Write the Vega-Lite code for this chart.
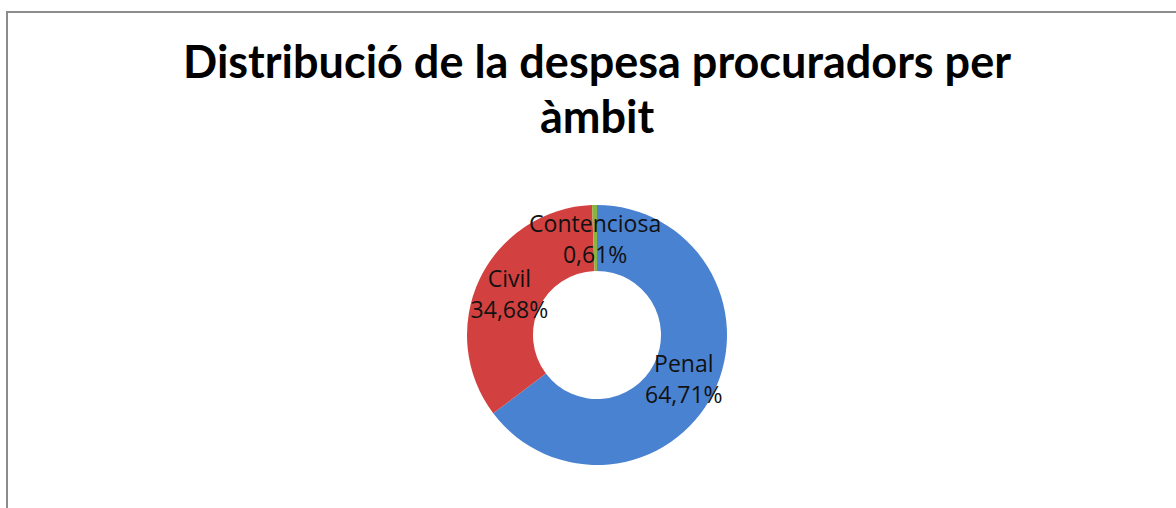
{
  "$schema": "https://vega.github.io/schema/vega-lite/v6.json",
  "width": 1180,
  "height": 646,
  "autosize": "none",
  "padding": {"left": 7, "top": 12, "right": 0, "bottom": 0},
  "background": "white",
  "view": {"stroke": "#8c8c8c", "strokeWidth": 2, "fill": "white"},
  "title": {
    "text": ["Distribució de la despesa procuradors per", "àmbit"],
    "orient": "top",
    "anchor": "middle",
    "frame": "group",
    "baseline": "top",
    "offset": -130,
    "font": "Lato",
    "fontSize": 45,
    "fontWeight": "bold",
    "color": "#000000",
    "lineHeight": 55
  },
  "data": {
    "values": [
      {"ambit": "Penal", "pct": 64.71, "ord": 1, "label": "Penal\n64,71%"},
      {"ambit": "Civil", "pct": 34.68, "ord": 2, "label": "Civil\n34,68%"},
      {"ambit": "Contenciosa", "pct": 0.61, "ord": 3, "label": "Contenciosa\n0,61%"}
    ]
  },
  "encoding": {
    "theta": {"field": "pct", "type": "quantitative", "stack": true},
    "order": {"field": "ord", "type": "quantitative"}
  },
  "layer": [
    {
      "mark": {"type": "arc", "outerRadius": 130, "innerRadius": 64},
      "encoding": {
        "color": {
          "field": "ambit",
          "type": "nominal",
          "scale": {"domain": ["Penal", "Civil", "Contenciosa"], "range": ["#4A82D2", "#D2413F", "#8DB33F"]},
          "legend": null
        }
      }
    },
    {
      "mark": {"type": "text", "radius": 97, "dy": -13, "lineBreak": "\n", "font": "Open Sans", "fontSize": 23, "lineHeight": 31, "color": "#111111", "align": "center", "baseline": "middle"},
      "encoding": {
        "text": {"field": "label", "type": "nominal"}
      }
    }
  ]
}
